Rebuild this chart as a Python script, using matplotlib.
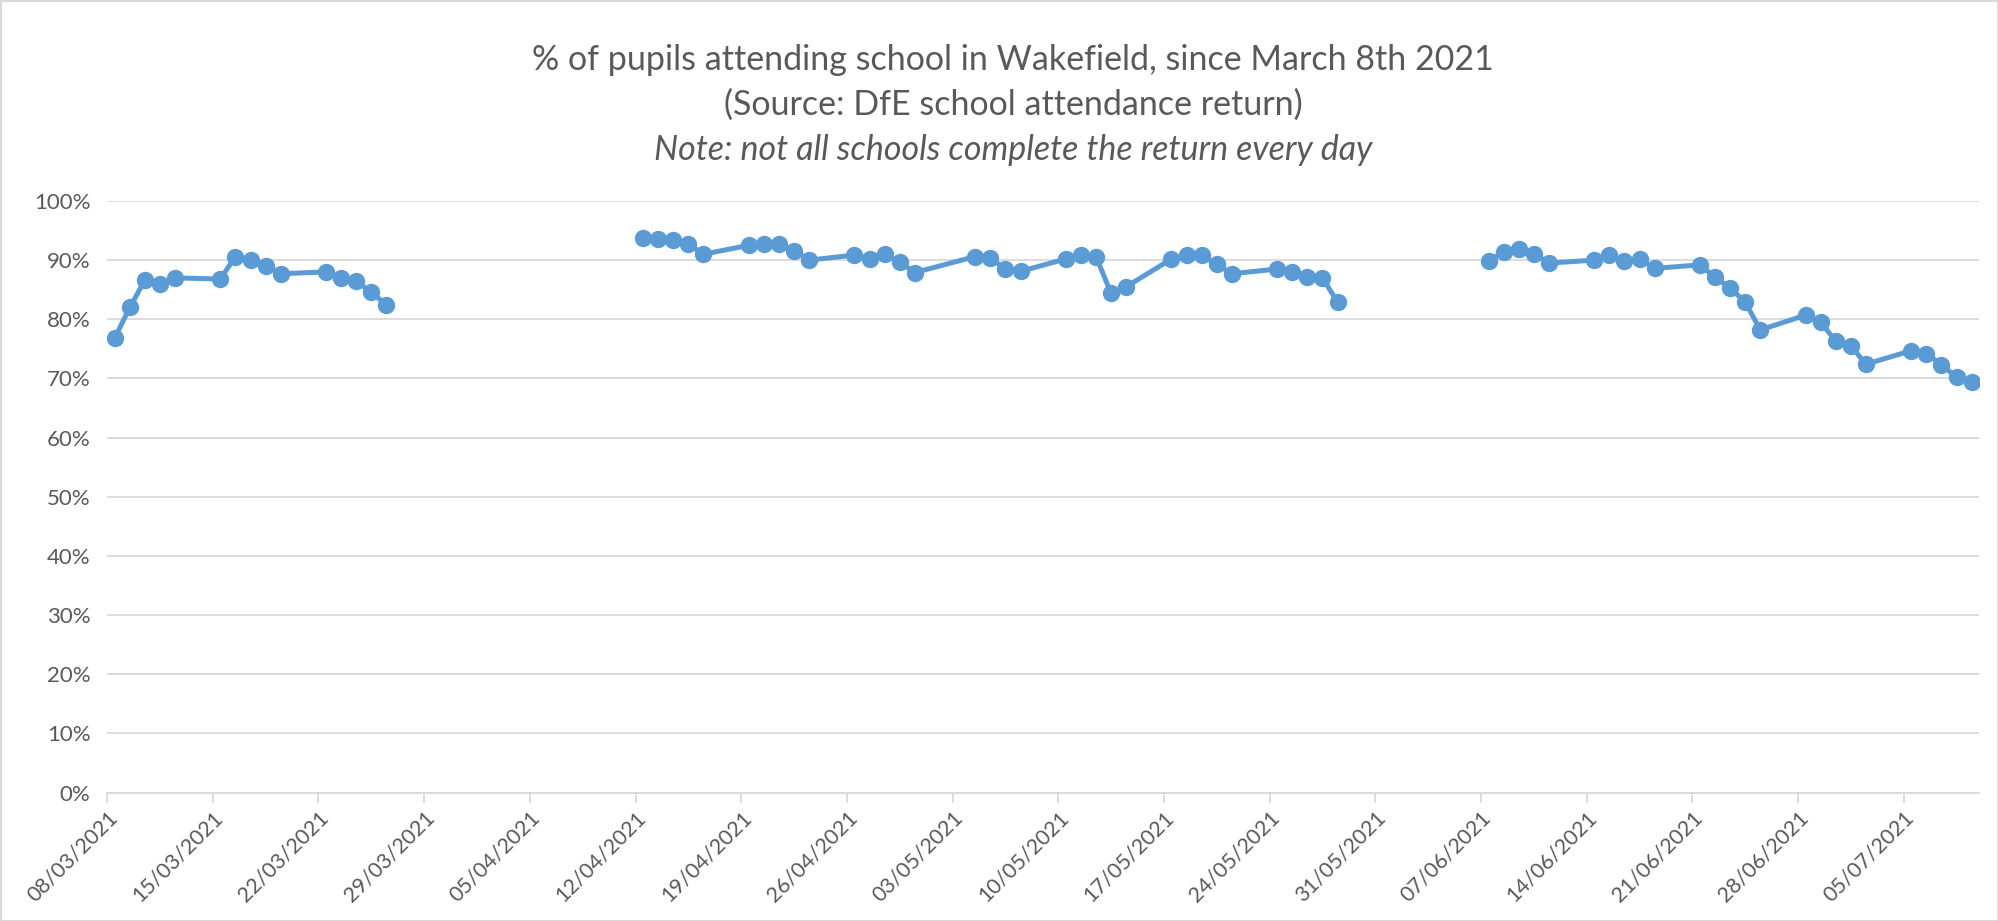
import matplotlib.pyplot as plt
import matplotlib.dates as mdates
import pandas as pd

# school days per term (weekends and holidays are not in the return)
spring_days = pd.bdate_range("2021-03-08", "2021-03-26")
summer1_days = pd.bdate_range("2021-04-12", "2021-05-28").drop(pd.Timestamp("2021-05-03"))
summer2_days = pd.bdate_range("2021-06-07", "2021-07-09")

spring_vals = [76.8, 82.0, 86.6, 85.9, 87.0,
               86.8, 90.6, 90.1, 89.0, 87.7,
               88.0, 87.0, 86.4, 84.6, 82.4]
summer1_vals = [93.8, 93.5, 93.35, 92.7, 91.0,
                92.5, 92.7, 92.7, 91.6, 90.0,
                90.85, 90.2, 91.0, 89.7, 87.9,
                90.6, 90.3, 88.5, 88.1,
                90.2, 90.8, 90.6, 84.4, 85.5,
                90.2, 90.8, 90.8, 89.3, 87.7,
                88.5, 87.95, 87.2, 87.0, 82.9]
summer2_vals = [89.8, 91.4, 91.8, 91.1, 89.5,
                90.0, 90.8, 89.8, 90.2, 88.6,
                89.2, 87.1, 85.3, 82.9, 78.2,
                80.7, 79.5, 76.3, 75.5, 72.4,
                74.7, 74.2, 72.3, 70.2, 69.4]

blue = "#5B9BD5"
grey_txt = "#595959"
grid_col = "#D9D9D9"

plt.rcParams["font.family"] = ["Lato", "DejaVu Sans"]

fig = plt.figure(figsize=(19.98, 9.21), dpi=100)
fig.patch.set_edgecolor(grid_col)
fig.patch.set_linewidth(2)
ax = fig.add_axes([0.0536, 0.1395, 0.9370, 0.6423])

half_day = pd.Timedelta(hours=12)
for days, vals in [(spring_days, spring_vals), (summer1_days, summer1_vals),
                   (summer2_days, summer2_vals)]:
    ax.plot(days + half_day, vals, color=blue, lw=3.6, marker="o",
            markersize=11.5, solid_capstyle="round", zorder=3)

ax.set_ylim(0, 100)
ax.set_yticks(range(0, 101, 10))
ax.set_yticklabels([f"{v}%" for v in range(0, 101, 10)])
ax.set_xlim(pd.Timestamp("2021-03-08"), pd.Timestamp("2021-07-10"))
ax.set_xticks(pd.date_range("2021-03-08", "2021-07-05", freq="7D"))
ax.xaxis.set_major_formatter(mdates.DateFormatter("%d/%m/%Y"))

ax.grid(axis="y", color=grid_col, lw=1.3)
ax.set_axisbelow(True)
for s in ["top", "right", "left"]:
    ax.spines[s].set_visible(False)
ax.spines["bottom"].set_color(grid_col)
ax.spines["bottom"].set_linewidth(1.3)
ax.tick_params(axis="y", length=0, pad=12, labelsize=16, labelcolor=grey_txt)
ax.tick_params(axis="x", length=7, width=1.3, color=grid_col, pad=4,
               labelsize=15.5, labelcolor=grey_txt)
plt.setp(ax.get_xticklabels(), rotation=45, ha="right", rotation_mode="anchor")

fig.text(0.507, 1 - 60 / 921, "% of pupils attending school in Wakefield, since March 8th 2021",
         ha="center", va="center", fontsize=24.5, color=grey_txt)
fig.text(0.507, 1 - 105 / 921, "(Source: DfE school attendance return)",
         ha="center", va="center", fontsize=24.5, color=grey_txt)
fig.text(0.507, 1 - 150 / 921, "Note: not all schools complete the return every day",
         ha="center", va="center", fontsize=24.5, color=grey_txt, style="italic")

fig.savefig("out.png", dpi=100, edgecolor=fig.get_edgecolor())
